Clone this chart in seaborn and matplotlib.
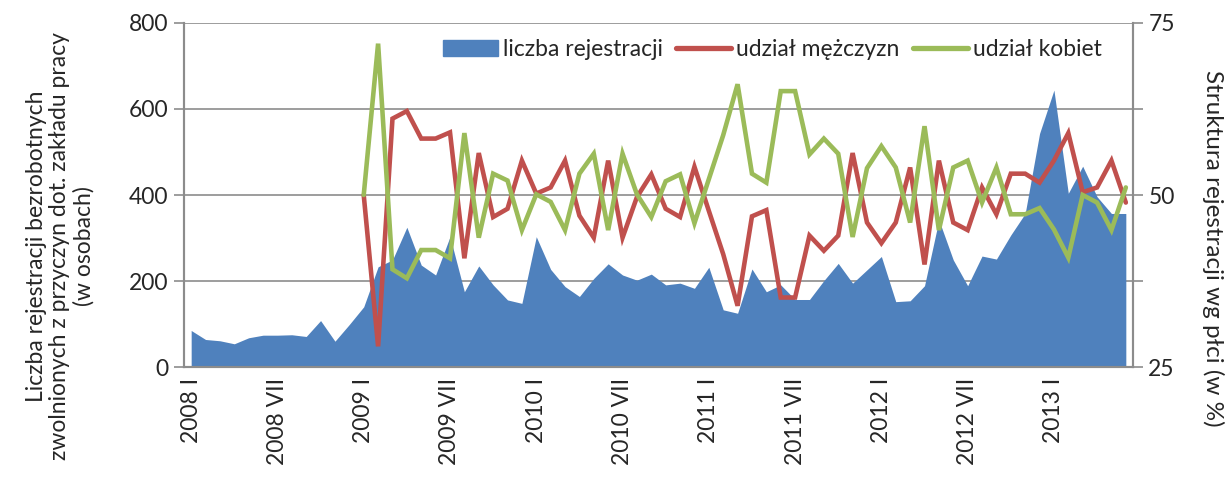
import numpy as np
import pandas as pd
import seaborn as sns
import matplotlib.pyplot as plt
from matplotlib.patches import Patch
from matplotlib.lines import Line2D

# miesiace 2008 I - 2013 VI
roman = ['I', 'II', 'III', 'IV', 'V', 'VI', 'VII', 'VIII', 'IX', 'X', 'XI', 'XII']
years = [2008, 2009, 2010, 2011, 2012, 2013]
months = [f'{y} {m}' for y in years for m in roman][:66]

liczba = [85, 64, 61, 54, 68, 74, 74, 75, 71, 108, 60, 99,
          140, 233, 249, 325, 237, 214, 303, 175, 235, 191, 156, 148,
          303, 227, 187, 164, 206, 240, 214, 202, 216, 191, 195, 183,
          232, 133, 125, 228, 175, 191, 157, 157, 201, 241, 195, 226,
          257, 152, 154, 189, 342, 249, 189, 258, 251, 307, 357, 543,
          644, 404, 467, 396, 357, 357]

mezczyzni = [None] * 12 + [
    50.0, 28.0, 61.1, 62.2, 58.2, 58.2, 59.1, 40.8, 56.1, 46.8, 48.0, 55.0,
    50.2, 51.1, 55.0, 47.0, 43.8, 55.0, 43.8, 49.7, 53.0, 48.0, 46.8, 54.1,
    47.7, 41.4, 33.9, 46.9, 47.8, 35.1, 35.1, 44.1, 41.9, 44.1, 56.1, 46.0,
    43.0, 46.0, 54.0, 39.9, 55.0, 46.0, 44.9, 51.1, 47.2, 53.1, 53.1, 51.8,
    55.0, 59.0, 50.4, 51.1, 55.0, 48.9]

kobiety = [None] * 12 + [
    50.0, 72.0, 39.2, 37.9, 42.0, 42.0, 40.8, 59.0, 43.8, 53.1, 52.1, 44.9,
    50.1, 49.0, 44.9, 53.1, 56.0, 44.9, 56.0, 50.1, 46.8, 52.0, 53.0, 45.9,
    52.3, 58.7, 66.1, 53.1, 51.8, 65.1, 65.1, 55.9, 58.2, 56.0, 43.9, 53.9,
    57.1, 54.0, 46.0, 60.0, 44.9, 54.0, 55.0, 48.9, 54.0, 47.2, 47.2, 48.1,
    45.0, 40.9, 50.0, 48.9, 44.9, 51.1]

df = pd.DataFrame({'x': np.arange(len(months)), 'liczba': liczba,
                   'm': pd.array(mezczyzni, dtype='Float64'),
                   'k': pd.array(kobiety, dtype='Float64')})

BLUE = '#4F81BD'
RED = '#C0504D'
GREEN = '#9BBB59'
GRID = '#8C8C8C'
FS = 16.5

sns.set_style('white')
plt.rcParams['font.family'] = ['Lato', 'DejaVu Sans']

W, H = 1229, 478
fig = plt.figure(figsize=(W / 100, H / 100), dpi=100)
ax = fig.add_axes([0.1497, 0.2322, 0.9219 - 0.1497, 0.9519 - 0.2322])
ax2 = ax.twinx()

ax.fill_between(df['x'], 0, df['liczba'], color=BLUE, lw=0, zorder=2)
sns.lineplot(data=df, x='x', y='m', ax=ax2, color=RED, lw=3.3, legend=False)
sns.lineplot(data=df, x='x', y='k', ax=ax2, color=GREEN, lw=3.3, legend=False)
for l in ax2.lines:
    l.set_solid_joinstyle('miter')

ax.set_xlim(-0.5, len(months) - 0.5)
ax.set_ylim(0, 800)
ax.set_yticks([0, 200, 400, 600, 800])
ax2.set_ylim(25, 75)
ax2.set_yticks([25, 50, 75])
ax2.set_yticks([37.5, 62.5], minor=True)

ax.yaxis.grid(True, color=GRID, lw=1.2, zorder=0)
ax.set_axisbelow(True)

pos = list(range(0, len(months), 6))
ax.set_xticks(pos)
ax.set_xticklabels([months[p] for p in pos], rotation=90)
ax.set_xticks(np.arange(-0.5, len(months)), minor=True)
ax.tick_params(axis='x', which='major', length=0, pad=8, labelsize=FS)
ax.tick_params(axis='x', which='minor', length=6, width=1.2, color=GRID, direction='out')
ax.tick_params(axis='y', length=7, width=1.2, color=GRID, labelsize=FS, pad=4)
ax2.tick_params(axis='y', which='both', length=7, width=1.2, color=GRID, labelsize=FS, pad=4)

for a in (ax, ax2):
    a.spines['top'].set_visible(False)
    for s in ('left', 'right', 'bottom'):
        a.spines[s].set_color(GRID)
        a.spines[s].set_linewidth(1.5)

ax.set_xlabel('')
ax.set_ylabel('')
ax2.set_xlabel('')
ax2.set_ylabel('')

# osie opisane tekstem w pozycjach jak w oryginale
fig.text(60 / W, 1 - 246 / H,
         'Liczba rejestracji bezrobotnych\nzwolnionych z przyczyn dot. zakładu pracy\n(w osobach)',
         rotation=90, ha='center', va='center', multialignment='center',
         fontsize=16.5, linespacing=1.15)
fig.text(1213 / W, 1 - 248 / H, 'Struktura rejestracji wg płci (w %)',
         rotation=270, ha='center', va='center', fontsize=17.5)

handles = [Patch(color=BLUE), Line2D([], [], color=RED, lw=3.8, solid_capstyle='round'),
           Line2D([], [], color=GREEN, lw=3.8, solid_capstyle='round')]
ax2.legend(handles, ['liczba rejestracji', 'udział mężczyzn', 'udział kobiet'],
           loc='upper center', bbox_to_anchor=(0.62, 1.0), ncol=3, frameon=False,
           fontsize=FS, handlelength=2.4, handletextpad=0.2, columnspacing=0.6,
           borderaxespad=0.3)

fig.savefig('out.png', dpi=100)
